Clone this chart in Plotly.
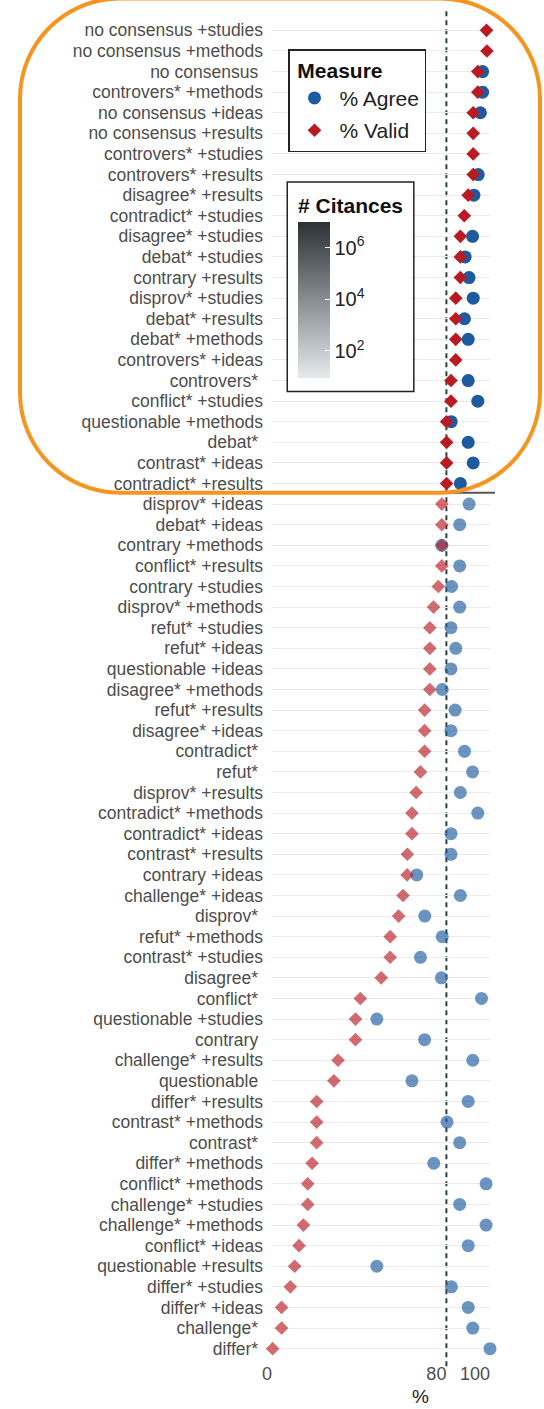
import plotly.graph_objects as go

# Search terms, top to bottom (sorted by % Valid)
terms = [
    "no consensus +studies", "no consensus +methods", "no consensus ", "controvers* +methods",
    "no consensus +ideas", "no consensus +results", "controvers* +studies", "controvers* +results",
    "disagree* +results", "contradict* +studies", "disagree* +studies", "debat* +studies",
    "contrary +results", "disprov* +studies", "debat* +results", "debat* +methods",
    "controvers* +ideas", "controvers* ", "conflict* +studies", "questionable +methods",
    "debat* ", "contrast* +ideas", "contradict* +results", "disprov* +ideas",
    "debat* +ideas", "contrary +methods", "conflict* +results", "contrary +studies",
    "disprov* +methods", "refut* +studies", "refut* +ideas", "questionable +ideas",
    "disagree* +methods", "refut* +results", "disagree* +ideas", "contradict* ",
    "refut* ", "disprov* +results", "contradict* +methods", "contradict* +ideas",
    "contrast* +results", "contrary +ideas", "challenge* +ideas", "disprov* ",
    "refut* +methods", "contrast* +studies", "disagree* ", "conflict* ",
    "questionable +studies", "contrary ", "challenge* +results", "questionable ",
    "differ* +results", "contrast* +methods", "contrast* ", "differ* +methods",
    "conflict* +methods", "challenge* +studies", "challenge* +methods", "conflict* +ideas",
    "questionable +results", "differ* +studies", "differ* +ideas", "challenge* ",
    "differ* ",
]

pct_valid = [
    98.4, 98.6, 94.4, 94.4,
    92.3, 92.3, 92.3, 92.3,
    90.0, 88.2, 86.4, 86.4,
    86.4, 84.3, 84.3, 84.3,
    84.3, 82.1, 82.1, 80.1,
    80.1, 80.1, 80.1, 77.9,
    77.9, 77.9, 77.9, 76.3,
    74.1, 72.4, 72.4, 72.4,
    72.4, 70.0, 70.0, 70.0,
    68.1, 66.1, 64.2, 64.2,
    62.1, 62.0, 60.1, 58.1,
    54.2, 54.2, 50.1, 40.5,
    38.3, 38.3, 30.3, 28.4,
    20.5, 20.5, 20.5, 18.4,
    16.4, 16.4, 14.4, 12.4,
    10.4, 8.4, 4.4, 4.4,
    0.3,
]

pct_agree = [
    None, None, 96.6, 96.6,
    95.6, None, None, 94.6,
    92.6, None, 92.0, 88.6,
    90.4, 92.3, 88.3, 90.0,
    None, 90.0, 94.4, 82.2,
    90.0, 92.3, 86.4, 90.4,
    86.1, 77.9, 86.1, 82.4,
    86.1, 82.1, 84.3, 82.1,
    78.1, 84.0, 82.1, 88.3,
    92.0, 86.4, 94.4, 82.1,
    82.1, 66.4, 86.4, 70.1,
    78.1, 68.1, 77.7, 96.1,
    48.1, 70.0, 92.1, 64.2,
    90.0, 80.3, 86.1, 74.2,
    98.2, 86.1, 98.2, 90.0,
    48.1, 82.3, 90.0, 92.1,
    100.0,
]

x_ticks = [0, 80, 100]
x_grid = [0, 100]
threshold = 80
citance_ticks = [2, 4, 6]

# keep trailing spaces of single-term labels visible
labels = [t[:-1] + "\u00a0" if t.endswith(" ") else t for t in terms]

W, H = 544, 1409
M_L, M_R, M_T, M_B = 272, 54, 18, 48
PW, PH = W - M_L - M_R, H - M_T - M_B
Y_TOP, Y_BOT = -0.6, len(terms) - 0.4

FONT = "Liberation Sans, Arial, Helvetica, sans-serif"
BLUE = "#1d5aa0"
RED = "#b81c22"
FADED = 0.65

highlight = [v >= threshold for v in pct_valid]


def pick(values, keep):
    return [v if h == keep else None for v, h in zip(values, highlight)]


fig = go.Figure()
# circles first so the diamonds sit on top
for name, vals, sym, size, col in [
    ("% Agree", pct_agree, "circle", 13, BLUE),
    ("% Valid", pct_valid, "diamond", 10.5, RED),
]:
    for keep, op in [(True, 1.0), (False, FADED)]:
        fig.add_trace(go.Scatter(
            x=pick(vals, keep), y=labels, mode="markers", name=name,
            legendgroup=name, showlegend=keep, cliponaxis=False,
            marker=dict(symbol=sym, size=size, color=col, opacity=op, line=dict(width=0)),
        ))

# colour key for the number of citances (log10 scale)
fig.add_trace(go.Scatter(
    x=[None, None], y=[None, None], mode="markers", showlegend=False, hoverinfo="skip",
    marker=dict(
        color=[0.95, 7.0], cmin=0.95, cmax=7.0,
        colorscale=[[0, "#e6eaed"], [1, "#2b3135"]],
        showscale=True,
        colorbar=dict(
            title=dict(text="<b># Citances</b>", side="top",
                       font=dict(family=FONT, size=21, color="#111")),
            x=(288 - M_L) / PW, xanchor="left",
            y=(H - M_B - 182) / PH, yanchor="top",
            lenmode="pixels", len=208, thicknessmode="pixels", thickness=32,
            xpad=10, ypad=12,
            bgcolor="white", bordercolor="#222", borderwidth=1.5, outlinewidth=0,
            tickvals=citance_ticks,
            ticktext=[f"10<sup>{t}</sup>" for t in citance_ticks],
            ticks="inside", ticklen=5, tickcolor="white", tickwidth=1,
            tickfont=dict(family=FONT, size=20, color="#222"),
        ),
    ),
))


def ypaper(idx):
    return (Y_BOT - idx) / (Y_BOT - Y_TOP)


shapes = [
    dict(type="line", xref="x", yref="paper", x0=threshold, x1=threshold, y0=-0.004, y1=1.008,
         line=dict(color="#2a4545", width=2, dash="5px,4px"), layer="below"),
]

last_hl = max(i for i, h in enumerate(highlight) if h)
sep_y = ypaper(last_hl + 0.45)
shapes.append(dict(type="line", xref="paper", yref="paper", x0=-0.04, x1=(495 - M_L) / PW,
                   y0=sep_y, y1=sep_y, line=dict(color="#555", width=2), layer="above"))

# rounded box around the rows above the threshold
x0, x1 = (20 - M_L) / PW, (540 - M_L) / PW
y1, y0 = ypaper(-1.55), sep_y
rx, ry = 100 / PW, 100 / PH
k = 0.5523
path = (
    f"M {x0 + rx},{y1} L {x1 - rx},{y1} "
    f"C {x1 - rx + k * rx},{y1} {x1},{y1 - ry + k * ry} {x1},{y1 - ry} "
    f"L {x1},{y0 + ry} "
    f"C {x1},{y0 + ry - k * ry} {x1 - rx + k * rx},{y0} {x1 - rx},{y0} "
    f"L {x0 + rx},{y0} "
    f"C {x0 + rx - k * rx},{y0} {x0},{y0 + ry - k * ry} {x0},{y0 + ry} "
    f"L {x0},{y1 - ry} "
    f"C {x0},{y1 - ry + k * ry} {x0 + rx - k * rx},{y1} {x0 + rx},{y1} Z"
)
shapes.append(dict(type="path", xref="paper", yref="paper", path=path,
                   line=dict(color="#f5941e", width=4), layer="above"))

fig.update_layout(
    width=W, height=H,
    margin=dict(l=M_L, r=M_R, t=M_T, b=M_B, autoexpand=False),
    paper_bgcolor="white", plot_bgcolor="rgba(0,0,0,0)",
    font=dict(family=FONT, color="#4d4d4d"),
    shapes=shapes,
    showlegend=True,
    legend=dict(
        title=dict(text="<b>\u00a0Measure</b>", font=dict(family=FONT, size=21, color="#111")),
        x=(288 - M_L) / PW, xanchor="left",
        y=(H - M_B - 49) / PH, yanchor="top",
        bgcolor="white", bordercolor="#222", borderwidth=1.5,
        font=dict(family=FONT, size=21, color="#222"),
        itemwidth=40, tracegroupgap=2,
    ),
    annotations=[dict(text="%", xref="paper", yref="paper",
                      x=(420 - M_L) / PW, y=(H - M_B - 1396) / PH,
                      xanchor="center", yanchor="middle", showarrow=False,
                      font=dict(family=FONT, size=19, color="#222"))],
)

fig.update_xaxes(
    range=[0, 100], tickvals=x_ticks, ticktext=[str(t) for t in x_ticks],
    showgrid=False, zeroline=False,
    minor=dict(tickmode="array", tickvals=x_grid, showgrid=True,
               gridcolor="#ebebeb", gridwidth=1, ticks=""),
    showline=False, ticks="", ticklabelposition="outside left",
    tickfont=dict(family=FONT, size=18, color="#4d4d4d"),
    automargin=False, fixedrange=True,
)
fig.update_yaxes(
    type="category", categoryorder="array", categoryarray=labels,
    tickmode="linear", tick0=0, dtick=1,
    range=[Y_BOT, Y_TOP],
    showgrid=True, gridcolor="#ebebeb", gridwidth=1.2, zeroline=False,
    showline=False, ticks="", ticklabelstandoff=8,
    tickfont=dict(family=FONT, size=17.5, color="#4d4d4d"),
    automargin=False, fixedrange=True,
)

fig.write_html("out.html")
